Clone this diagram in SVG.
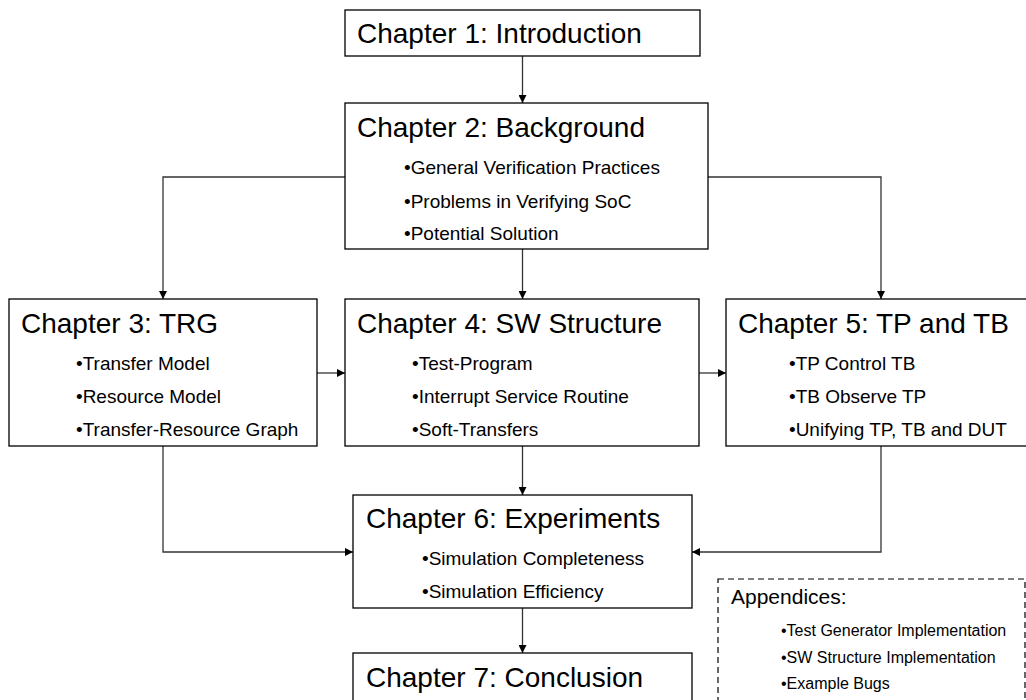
<svg xmlns="http://www.w3.org/2000/svg" width="1026" height="700" viewBox="0 0 1026 700">
  <defs>
    <marker id="arrow" viewBox="0 0 10 10" refX="10" refY="5" markerWidth="8" markerHeight="8" markerUnits="userSpaceOnUse" orient="auto">
      <path d="M0,0 L10,5 L0,10 z" fill="#000"/>
    </marker>
  </defs>
  <style>
    .box { fill: #fff; stroke: #000; stroke-width: 1.3; }
    .dash { fill: #fff; stroke: #000; stroke-width: 1.2; stroke-dasharray: 6 4; }
    .title { font-family: "Liberation Sans", Arial, sans-serif; font-size: 28px; fill: #000; }
    .item { font-family: "Liberation Sans", Arial, sans-serif; font-size: 19px; fill: #000; }
    .app { font-family: "Liberation Sans", Arial, sans-serif; font-size: 21px; fill: #000; }
    .appitem { font-family: "Liberation Sans", Arial, sans-serif; font-size: 16px; fill: #000; }
    .link { fill: none; stroke: #333; stroke-width: 1.3; marker-end: url(#arrow); }
  </style>

  <rect width="1026" height="700" fill="#fff"/>

  <!-- connectors -->
  <g id="connectors">
    <path class="link" d="M522.5,56 V103"/>
    <path class="link" d="M345,177 H163 V299"/>
    <path class="link" d="M708,177 H881 V299"/>
    <path class="link" d="M522.5,249 V299"/>
    <path class="link" d="M317,373 H345"/>
    <path class="link" d="M699,373 H726"/>
    <path class="link" d="M163,446 V552 H353"/>
    <path class="link" d="M881,446 V552 H692"/>
    <path class="link" d="M522.5,446 V495"/>
    <path class="link" d="M522.5,608 V653"/>
  </g>

  <g id="ch1">
    <rect class="box" x="345" y="10" width="355" height="46"/>
    <text class="title" x="357" y="43">Chapter 1: Introduction</text>
  </g>

  <g id="ch2">
    <rect class="box" x="345" y="103" width="363" height="146"/>
    <text class="title" x="357" y="137">Chapter 2: Background</text>
    <text class="item" x="404" y="174">•General Verification Practices</text>
    <text class="item" x="404" y="208">•Problems in Verifying SoC</text>
    <text class="item" x="404" y="240">•Potential Solution</text>
  </g>

  <g id="ch3">
    <rect class="box" x="9" y="299" width="308" height="147"/>
    <text class="title" x="21" y="333">Chapter 3: TRG</text>
    <text class="item" x="76" y="370">•Transfer Model</text>
    <text class="item" x="76" y="403">•Resource Model</text>
    <text class="item" x="76" y="436">•Transfer-Resource Graph</text>
  </g>

  <g id="ch4">
    <rect class="box" x="345" y="299" width="354" height="147"/>
    <text class="title" x="357" y="333">Chapter 4: SW Structure</text>
    <text class="item" x="412" y="370">•Test-Program</text>
    <text class="item" x="412" y="403">•Interrupt Service Routine</text>
    <text class="item" x="412" y="436">•Soft-Transfers</text>
  </g>

  <g id="ch5">
    <rect class="box" x="726" y="299" width="310" height="147"/>
    <text class="title" x="738" y="333">Chapter 5: TP and TB</text>
    <text class="item" x="789" y="370">•TP Control TB</text>
    <text class="item" x="789" y="403">•TB Observe TP</text>
    <text class="item" x="789" y="436">•Unifying TP, TB and DUT</text>
  </g>

  <g id="ch6">
    <rect class="box" x="353" y="495" width="339" height="113"/>
    <text class="title" x="366" y="528">Chapter 6: Experiments</text>
    <text class="item" x="422" y="565">•Simulation Completeness</text>
    <text class="item" x="422" y="598">•Simulation Efficiency</text>
  </g>

  <g id="ch7">
    <rect class="box" x="353" y="653" width="339" height="60"/>
    <text class="title" x="366" y="687">Chapter 7: Conclusion</text>
  </g>

  <g id="appendices">
    <rect class="dash" x="718" y="579" width="307" height="140"/>
    <text class="app" x="731" y="604">Appendices:</text>
    <text class="appitem" x="781" y="636">•Test Generator Implementation</text>
    <text class="appitem" x="781" y="663">•SW Structure Implementation</text>
    <text class="appitem" x="781" y="689">•Example Bugs</text>
  </g>
</svg>
